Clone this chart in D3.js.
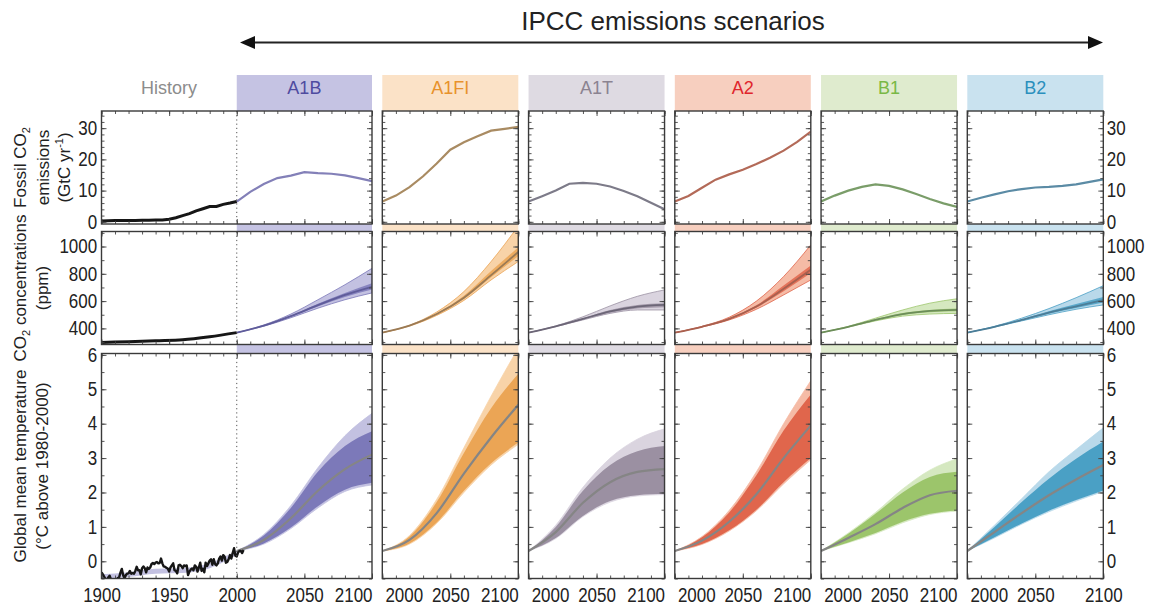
<!DOCTYPE html>
<meta charset="utf-8">
<script src="https://d3js.org/d3.v7.min.js"></script>
<style>
  body { margin: 0; background: #fff; }
</style>
<div id="chart"></div>
<script>

// ---------------- data ----------------
var scenarios = ["A1B", "A1FI", "A1T", "A2", "B1", "B2"];

// fossil CO2 emissions (GtC/yr), one list per scenario
var emisYears = [2000, 2010, 2020, 2030, 2040, 2050, 2060, 2070, 2080, 2090, 2100];
var emissions = [
  [6.5, 9.6, 12.1, 14.0, 14.8, 15.9, 15.6, 15.4, 14.9, 14.0, 13.0],
  [6.5, 8.4, 11.1, 14.6, 18.7, 23.1, 25.5, 27.4, 29.2, 29.8, 30.4],
  [6.5, 8.2, 10.0, 12.2, 12.5, 12.2, 11.3, 9.9, 8.2, 6.1, 4.0],
  [6.5, 8.3, 10.9, 13.5, 15.2, 16.7, 18.5, 20.5, 22.8, 25.6, 28.9],
  [6.5, 8.4, 10.0, 11.2, 12.0, 11.5, 10.4, 8.9, 7.3, 5.9, 4.8],
  [6.5, 7.7, 8.8, 9.8, 10.5, 11.0, 11.2, 11.5, 12.0, 12.8, 13.6]
];

// CO2 concentrations (ppm) and temperature (deg C) at these years
var projYears = [2000, 2020, 2040, 2060, 2080, 2100];
var co2Mid = [
  [369, 420, 490, 570, 645, 705],
  [369, 420, 505, 625, 790, 960],
  [369, 415, 470, 525, 560, 572],
  [369, 412, 470, 560, 690, 830],
  [369, 412, 462, 505, 528, 536],
  [369, 412, 462, 515, 562, 608]
];
var co2Hi = [
  [369, 425, 505, 610, 720, 840],
  [369, 423, 520, 670, 890, 1150],
  [369, 418, 485, 565, 635, 682],
  [369, 415, 482, 600, 780, 1012],
  [369, 415, 475, 535, 585, 617],
  [369, 415, 475, 545, 625, 713]
];
var co2Lo = [
  [369, 416, 478, 548, 610, 660],
  [369, 417, 495, 605, 755, 890],
  [369, 413, 462, 510, 535, 535],
  [369, 410, 462, 540, 645, 755],
  [369, 410, 455, 490, 505, 510],
  [369, 410, 455, 500, 540, 572]
];
var co2InHi = [
  [369, 421, 494, 580, 660, 730],
  [369, 421, 510, 640, 820, 995],
  [369, 416, 474, 535, 572, 585],
  [369, 413, 474, 570, 715, 860],
  [369, 413, 466, 512, 535, 545],
  [369, 413, 466, 525, 578, 630]
];
var co2InLo = [
  [369, 418, 485, 560, 630, 685],
  [369, 419, 500, 615, 775, 930],
  [369, 414, 466, 515, 545, 555],
  [369, 411, 466, 552, 672, 805],
  [369, 411, 459, 498, 518, 525],
  [369, 411, 459, 508, 550, 590]
];
var tempMid = [
  [0.3, 0.62, 1.25, 2.05, 2.68, 3.1],
  [0.3, 0.62, 1.4, 2.55, 3.6, 4.55],
  [0.3, 0.85, 1.7, 2.3, 2.6, 2.68],
  [0.3, 0.6, 1.15, 1.95, 3.0, 3.95],
  [0.3, 0.68, 1.08, 1.55, 1.92, 2.05],
  [0.3, 0.85, 1.4, 1.92, 2.38, 2.8]
];
var tempHi = [
  [0.3, 0.78, 1.62, 2.72, 3.65, 4.3],
  [0.3, 0.75, 1.8, 3.3, 4.8, 6.2],
  [0.3, 1.05, 2.15, 3.0, 3.55, 3.85],
  [0.3, 0.72, 1.48, 2.6, 4.0, 5.25],
  [0.3, 0.82, 1.42, 2.1, 2.65, 2.98],
  [0.3, 1.05, 1.82, 2.6, 3.25, 3.88]
];
var tempLo = [
  [0.3, 0.5, 0.95, 1.55, 2.03, 2.22],
  [0.3, 0.5, 1.1, 2.0, 2.8, 3.4],
  [0.3, 0.66, 1.3, 1.72, 1.9, 1.94],
  [0.3, 0.49, 0.88, 1.47, 2.25, 2.95],
  [0.3, 0.54, 0.8, 1.12, 1.36, 1.46],
  [0.3, 0.68, 1.08, 1.44, 1.75, 2.03]
];
var tempInHi = [
  [0.3, 0.75, 1.55, 2.6, 3.35, 3.78],
  [0.3, 0.72, 1.72, 3.15, 4.45, 5.45],
  [0.3, 1.0, 2.05, 2.8, 3.2, 3.35],
  [0.3, 0.7, 1.42, 2.5, 3.8, 4.85],
  [0.3, 0.8, 1.38, 2.0, 2.45, 2.6],
  [0.3, 1.0, 1.72, 2.4, 2.98, 3.48]
];
var tempInLo = [
  [0.3, 0.52, 0.98, 1.6, 2.08, 2.28],
  [0.3, 0.52, 1.13, 2.05, 2.85, 3.45],
  [0.3, 0.68, 1.32, 1.75, 1.92, 1.96],
  [0.3, 0.5, 0.9, 1.5, 2.3, 3.0],
  [0.3, 0.55, 0.82, 1.15, 1.38, 1.48],
  [0.3, 0.7, 1.1, 1.47, 1.78, 2.06]
];

// history
var histEmisYears = [1900, 1905, 1910, 1915, 1920, 1925, 1930, 1935, 1940, 1945, 1950,
                     1955, 1960, 1965, 1970, 1975, 1980, 1985, 1990, 1995, 2000];
var histEmis = [0.3, 0.35, 0.4, 0.4, 0.45, 0.45, 0.5, 0.5, 0.6, 0.55, 0.8,
                1.3, 2.0, 2.6, 3.5, 4.2, 4.9, 4.9, 5.6, 6.0, 6.5];
var histCo2Years = [1900, 1920, 1940, 1960, 1980, 2000];
var histCo2 = [296, 303, 310, 317, 339, 369];
var histTempStart = 1900;
var histTemp = [
  -0.32, -0.38, -0.45, -0.52, -0.55, -0.47, -0.42, -0.53, -0.55, -0.54,
  -0.52, -0.55, -0.49, -0.47, -0.33, -0.22, -0.40, -0.50, -0.40, -0.36,
  -0.35, -0.28, -0.36, -0.34, -0.36, -0.28, -0.16, -0.26, -0.26, -0.38,
  -0.20, -0.15, -0.20, -0.32, -0.18, -0.22, -0.18, -0.08, -0.05, -0.08,
  -0.04, -0.02, -0.06, -0.05, 0.08, -0.06, -0.15, -0.16, -0.19, -0.21,
  -0.30, -0.18, -0.12, -0.06, -0.26, -0.28, -0.35, -0.12, -0.10, -0.14,
  -0.20, -0.12, -0.14, -0.12, -0.40, -0.30, -0.24, -0.21, -0.26, -0.12,
  -0.16, -0.30, -0.18, -0.04, -0.28, -0.22, -0.32, -0.04, -0.14, -0.06,
  0.02, 0.06, -0.10, 0.06, -0.08, -0.12, -0.06, 0.08, 0.14, 0.02,
  0.18, 0.14, -0.04, -0.02, 0.06, 0.18, 0.08, 0.24, 0.38, 0.16,
  0.14, 0.26, 0.30, 0.30, 0.24, 0.33
];
var histBandYears = [1900, 1920, 1940, 1960, 1980, 2000];
var histBandLo = [-0.52, -0.46, -0.36, -0.34, -0.2, 0.18];
var histBandHi = [-0.38, -0.32, -0.22, -0.2, -0.05, 0.32];

// tick labels
var histYearLabels = [1900, 1950, 2000, 2050, 2100];
var projYearLabels = [2000, 2050, 2100];
var emisLabels = [0, 10, 20, 30];
var co2Labels = [400, 600, 800, 1000];
var tempLabels = [0, 1, 2, 3, 4, 5, 6];

// ---------------- styles ----------------
var headerFill = ["#c5c3e3", "#fbe2c7", "#dedae2", "#f7cfbf", "#dfebce", "#c9e2ef"];
var headerText = ["#4e4ba0", "#e8922c", "#8b8391", "#e0262c", "#79b846", "#2a8fbd"];
var lightFill  = ["#c3c1e1", "#f8d3a8", "#dad4df", "#f5bba6", "#d5e8c0", "#b9d9ea"];
var darkFill   = ["#7c79b9", "#eba555", "#9b90a2", "#e0664c", "#9cc56b", "#4aa0c5"];
var emisColor  = ["#8380b8", "#a98b62", "#7d7b89", "#b36a58", "#7a9d69", "#5b8ba5"];
var co2Color   = ["#5f5c9a", "#9a7a55", "#6c6677", "#a8604f", "#6c8d5a", "#4c7d97"];

// ---------------- layout ----------------
var W = 1149, H = 610;
var histX0 = 101.5, histX1 = 372;
var colW = 136;
var rows = [
  {top: 111, bottom: 224},
  {top: 231.5, bottom: 344.5},
  {top: 353.5, bottom: 578.5}
];

var svg = d3.select("#chart").append("svg")
  .attr("width", W).attr("height", H)
  .style("font-family", "Arial, 'Liberation Sans', sans-serif");

var xHist = d3.scaleLinear().domain([1900, 2100]).range([histX0, histX1]);
var xCols = scenarios.map(function(s, i) {
  if (i === 0) return xHist;
  var l = 382.3 + (i - 1) * 146.25;
  return d3.scaleLinear().domain([2000, 2100]).range([l, l + colW]);
});
// horizontal extent of each scenario's colored column
var colExt = scenarios.map(function(s, i) {
  return [xCols[i](2000), xCols[i](2100)];
});

var yScales = [
  d3.scaleLinear().domain([-0.7, 35.5]).range([rows[0].bottom, rows[0].top]),
  d3.scaleLinear().domain([282, 1110]).range([rows[1].bottom, rows[1].top]),
  d3.scaleLinear().domain([-0.5, 6.04]).range([rows[2].bottom, rows[2].top])
];

// panels: history (with A1B) + the other 5 scenarios
var panels = [{x: xHist, x0: histX0, x1: histX1, hist: true}];
for (var i = 1; i < scenarios.length; i++) {
  panels.push({x: xCols[i], x0: colExt[i][0], x1: colExt[i][1], hist: false});
}

// ---------------- title + arrow ----------------
svg.append("text")
  .attr("x", 673).attr("y", 29.5)
  .attr("text-anchor", "middle")
  .style("font-size", "26px").style("fill", "#222")
  .text("IPCC emissions scenarios");

var defs = svg.append("defs");
svg.append("line")
  .attr("x1", 250).attr("x2", 1093).attr("y1", 42.5).attr("y2", 42.5)
  .attr("stroke", "#222").attr("stroke-width", 2);
svg.append("path").attr("d", "M240,42.5 L255,36 L255,49 Z").attr("fill", "#111");
svg.append("path").attr("d", "M1103,42.5 L1088,36 L1088,49 Z").attr("fill", "#111");

// ---------------- headers and strips ----------------
svg.append("text")
  .attr("x", (histX0 + xHist(2000)) / 2).attr("y", 93.5)
  .attr("text-anchor", "middle")
  .style("font-size", "18px").style("fill", "#8c8c8c")
  .text("History");

scenarios.forEach(function(s, i) {
  var x0 = colExt[i][0], x1 = colExt[i][1];
  svg.append("rect").attr("x", x0).attr("y", 75).attr("width", x1 - x0).attr("height", rows[0].top - 75)
    .attr("fill", headerFill[i]);
  svg.append("rect").attr("x", x0).attr("y", rows[0].bottom).attr("width", x1 - x0)
    .attr("height", rows[1].top - rows[0].bottom).attr("fill", headerFill[i]);
  svg.append("rect").attr("x", x0).attr("y", rows[1].bottom).attr("width", x1 - x0)
    .attr("height", rows[2].top - rows[1].bottom).attr("fill", headerFill[i]);
  svg.append("text")
    .attr("x", (x0 + x1) / 2).attr("y", 93.5)
    .attr("text-anchor", "middle")
    .style("font-size", "18px").style("fill", headerText[i])
    .text(s);
});

// ---------------- panel backgrounds + clips ----------------
panels.forEach(function(p, pi) {
  rows.forEach(function(r, ri) {
    svg.append("rect").attr("x", p.x0).attr("y", r.top)
      .attr("width", p.x1 - p.x0).attr("height", r.bottom - r.top).attr("fill", "#fff");
    defs.append("clipPath").attr("id", "clip" + pi + "_" + ri)
      .append("rect").attr("x", p.x0).attr("y", r.top)
      .attr("width", p.x1 - p.x0).attr("height", r.bottom - r.top);
  });
});

function toRows(years, a, b) {
  return years.map(function(yr, j) {
    return {yr: yr, a: a[j], b: b ? b[j] : null};
  });
}

function band(x, y) {
  return d3.area().curve(d3.curveMonotoneX)
    .x(function(d) { return x(d.yr); })
    .y0(function(d) { return y(d.a); })
    .y1(function(d) { return y(d.b); });
}
function line(x, y, curve) {
  return d3.line().curve(curve || d3.curveMonotoneX)
    .x(function(d) { return x(d.yr); })
    .y(function(d) { return y(d.a); });
}

// ---------------- history ----------------
var gh0 = svg.append("g").attr("clip-path", "url(#clip0_0)");
var gh1 = svg.append("g").attr("clip-path", "url(#clip0_1)");
var gh2 = svg.append("g").attr("clip-path", "url(#clip0_2)");

gh2.append("path")
  .attr("d", band(xHist, yScales[2])(toRows(histBandYears, histBandLo, histBandHi)))
  .attr("fill", lightFill[0]);

// ---------------- scenario data ----------------
scenarios.forEach(function(s, i) {
  var x = xCols[i];

  // emissions
  var g0 = i === 0 ? gh0 : svg.append("g").attr("clip-path", "url(#clip" + i + "_0)");
  g0.append("path")
    .attr("d", line(x, yScales[0], d3.curveLinear)(toRows(emisYears, emissions[i])))
    .attr("fill", "none").attr("stroke", emisColor[i]).attr("stroke-width", 2.2);

  // CO2
  var g1 = i === 0 ? gh1 : svg.append("g").attr("clip-path", "url(#clip" + i + "_1)");
  g1.append("path")
    .attr("d", band(x, yScales[1])(toRows(projYears, co2Lo[i], co2Hi[i])))
    .attr("fill", lightFill[i]).attr("stroke", darkFill[i]).attr("stroke-width", 0.8);
  g1.append("path")
    .attr("d", band(x, yScales[1])(toRows(projYears, co2InLo[i], co2InHi[i])))
    .attr("fill", darkFill[i]).attr("fill-opacity", 0.85);
  g1.append("path")
    .attr("d", line(x, yScales[1])(toRows(projYears, co2Mid[i])))
    .attr("fill", "none").attr("stroke", co2Color[i]).attr("stroke-width", 1.8);

  // temperature
  var g2 = i === 0 ? gh2 : svg.append("g").attr("clip-path", "url(#clip" + i + "_2)");
  g2.append("path")
    .attr("d", band(x, yScales[2])(toRows(projYears, tempLo[i], tempHi[i])))
    .attr("fill", lightFill[i]).attr("stroke", lightFill[i]).attr("stroke-width", 0.8);
  g2.append("path")
    .attr("d", band(x, yScales[2])(toRows(projYears, tempInLo[i], tempInHi[i])))
    .attr("fill", darkFill[i]);
  g2.append("path")
    .attr("d", line(x, yScales[2])(toRows(projYears, tempMid[i])))
    .attr("fill", "none").attr("stroke", "#858585").attr("stroke-width", 2.2);
});

// history black lines on top
gh0.append("path")
  .attr("d", line(xHist, yScales[0], d3.curveLinear)(toRows(histEmisYears, histEmis)))
  .attr("fill", "none").attr("stroke", "#161616").attr("stroke-width", 3);
gh1.append("path")
  .attr("d", line(xHist, yScales[1])(toRows(histCo2Years, histCo2)))
  .attr("fill", "none").attr("stroke", "#161616").attr("stroke-width", 3);
gh2.append("path")
  .attr("d", line(xHist, yScales[2], d3.curveLinear)(histTemp.map(function(v, j) {
    return {yr: histTempStart + j, a: v};
  })))
  .attr("fill", "none").attr("stroke", "#161616").attr("stroke-width", 2.4)
  .attr("stroke-linejoin", "round");

// dotted line at 2000
rows.forEach(function(r) {
  svg.append("line")
    .attr("x1", xHist(2000)).attr("x2", xHist(2000))
    .attr("y1", r.top).attr("y2", r.bottom)
    .attr("stroke", "#555").attr("stroke-width", 1).attr("stroke-dasharray", "1.2,3");
});

// ---------------- frames and ticks ----------------
var yMinor = [d3.range(0, 35.1, 2), d3.range(300, 1101, 100), d3.range(-0.5, 6.01, 0.5)];
var yMajor = [emisLabels, co2Labels, tempLabels];

function tickGroup(axis, tr, vals, size) {
  var g = svg.append("g").attr("transform", tr)
    .call(axis.tickValues(vals).tickSize(-size).tickSizeOuter(0).tickFormat(""));
  g.select(".domain").remove();
  g.selectAll("line").attr("stroke", "#444").attr("stroke-width", 0.9);
}

panels.forEach(function(p) {
  var xMin = p.hist ? d3.range(1900, 2101, 10) : d3.range(2000, 2101, 10);
  var xMaj = p.hist ? histYearLabels : projYearLabels;
  rows.forEach(function(r, ri) {
    var y = yScales[ri];
    tickGroup(d3.axisBottom(p.x), "translate(0," + r.bottom + ")", xMin, 3);
    tickGroup(d3.axisBottom(p.x), "translate(0," + r.bottom + ")", xMaj, 5);
    tickGroup(d3.axisTop(p.x), "translate(0," + r.top + ")", xMin, 3);
    tickGroup(d3.axisTop(p.x), "translate(0," + r.top + ")", xMaj, 5);
    tickGroup(d3.axisLeft(y), "translate(" + p.x0 + ",0)", yMinor[ri], 3);
    tickGroup(d3.axisLeft(y), "translate(" + p.x0 + ",0)", yMajor[ri], 5);
    tickGroup(d3.axisRight(y), "translate(" + p.x1 + ",0)", yMinor[ri], 3);
    tickGroup(d3.axisRight(y), "translate(" + p.x1 + ",0)", yMajor[ri], 5);
    svg.append("rect").attr("x", p.x0).attr("y", r.top)
      .attr("width", p.x1 - p.x0).attr("height", r.bottom - r.top)
      .attr("fill", "none").attr("stroke", "#3a3a3a").attr("stroke-width", 1.4);
  });
});

// ---------------- tick labels ----------------
var narrow = "scale(0.87,1)";
var intFmt = d3.format("d");
function labelStyle(g) {
  g.select(".domain").remove();
  g.selectAll("text").style("font-size", "19.5px").style("fill", "#222")
    .style("font-family", "Arial, 'Liberation Sans', sans-serif")
    .attr("transform", narrow);
}

rows.forEach(function(r, ri) {
  var y = yScales[ri];
  svg.append("g").attr("transform", "translate(" + histX0 + ",0)")
    .call(d3.axisLeft(y).tickValues(yMajor[ri]).tickSize(0).tickPadding(5).tickFormat(intFmt))
    .call(labelStyle);
  svg.append("g").attr("transform", "translate(" + panels[5].x1 + ",0)")
    .call(d3.axisRight(y).tickValues(yMajor[ri]).tickSize(0).tickPadding(4).tickFormat(intFmt))
    .call(labelStyle);
});

panels.forEach(function(p, pi) {
  var vals = p.hist ? histYearLabels : projYearLabels;
  var g = svg.append("g").attr("transform", "translate(0," + rows[2].bottom + ")")
    .call(d3.axisBottom(p.x).tickValues(vals).tickSize(0).tickPadding(10).tickFormat(intFmt))
    .call(labelStyle);
  g.selectAll("text").each(function(d) {
    var t = d3.select(this);
    if (!p.hist && d === 2000) t.attr("text-anchor", "start").attr("x", 3);
    if (d === 2100 && pi < panels.length - 1) t.attr("text-anchor", "end").attr("x", 0);
  });
});

// ---------------- axis titles ----------------
function vtitle(x, y, parts) {
  var t = svg.append("text")
    .attr("transform", "translate(" + x + "," + y + ") rotate(-90)")
    .attr("text-anchor", "middle")
    .style("font-size", "17px").style("fill", "#222");
  parts.forEach(function(p) {
    var ts = t.append("tspan").text(p.t);
    if (p.dy) ts.attr("dy", p.dy);
    if (p.small) ts.style("font-size", "11px");
  });
}
var c0 = (rows[0].top + rows[0].bottom) / 2;
var c1 = (rows[1].top + rows[1].bottom) / 2;
var c2 = (rows[2].top + rows[2].bottom) / 2;
vtitle(26, c0, [{t: "Fossil CO"}, {t: "2", dy: 4, small: true}]);
vtitle(49, c0, [{t: "emissions"}]);
vtitle(70, c0, [{t: "(GtC yr"}, {t: "-1", dy: -7, small: true}, {t: ")", dy: 7}]);
vtitle(26, c1, [{t: "CO"}, {t: "2", dy: 4, small: true}, {t: " concentrations", dy: -4}]);
vtitle(48, c1, [{t: "(ppm)"}]);
vtitle(26, c2, [{t: "Global mean temperature"}]);
vtitle(48, c2, [{t: "(\u00B0C above 1980-2000)"}]);

</script>
